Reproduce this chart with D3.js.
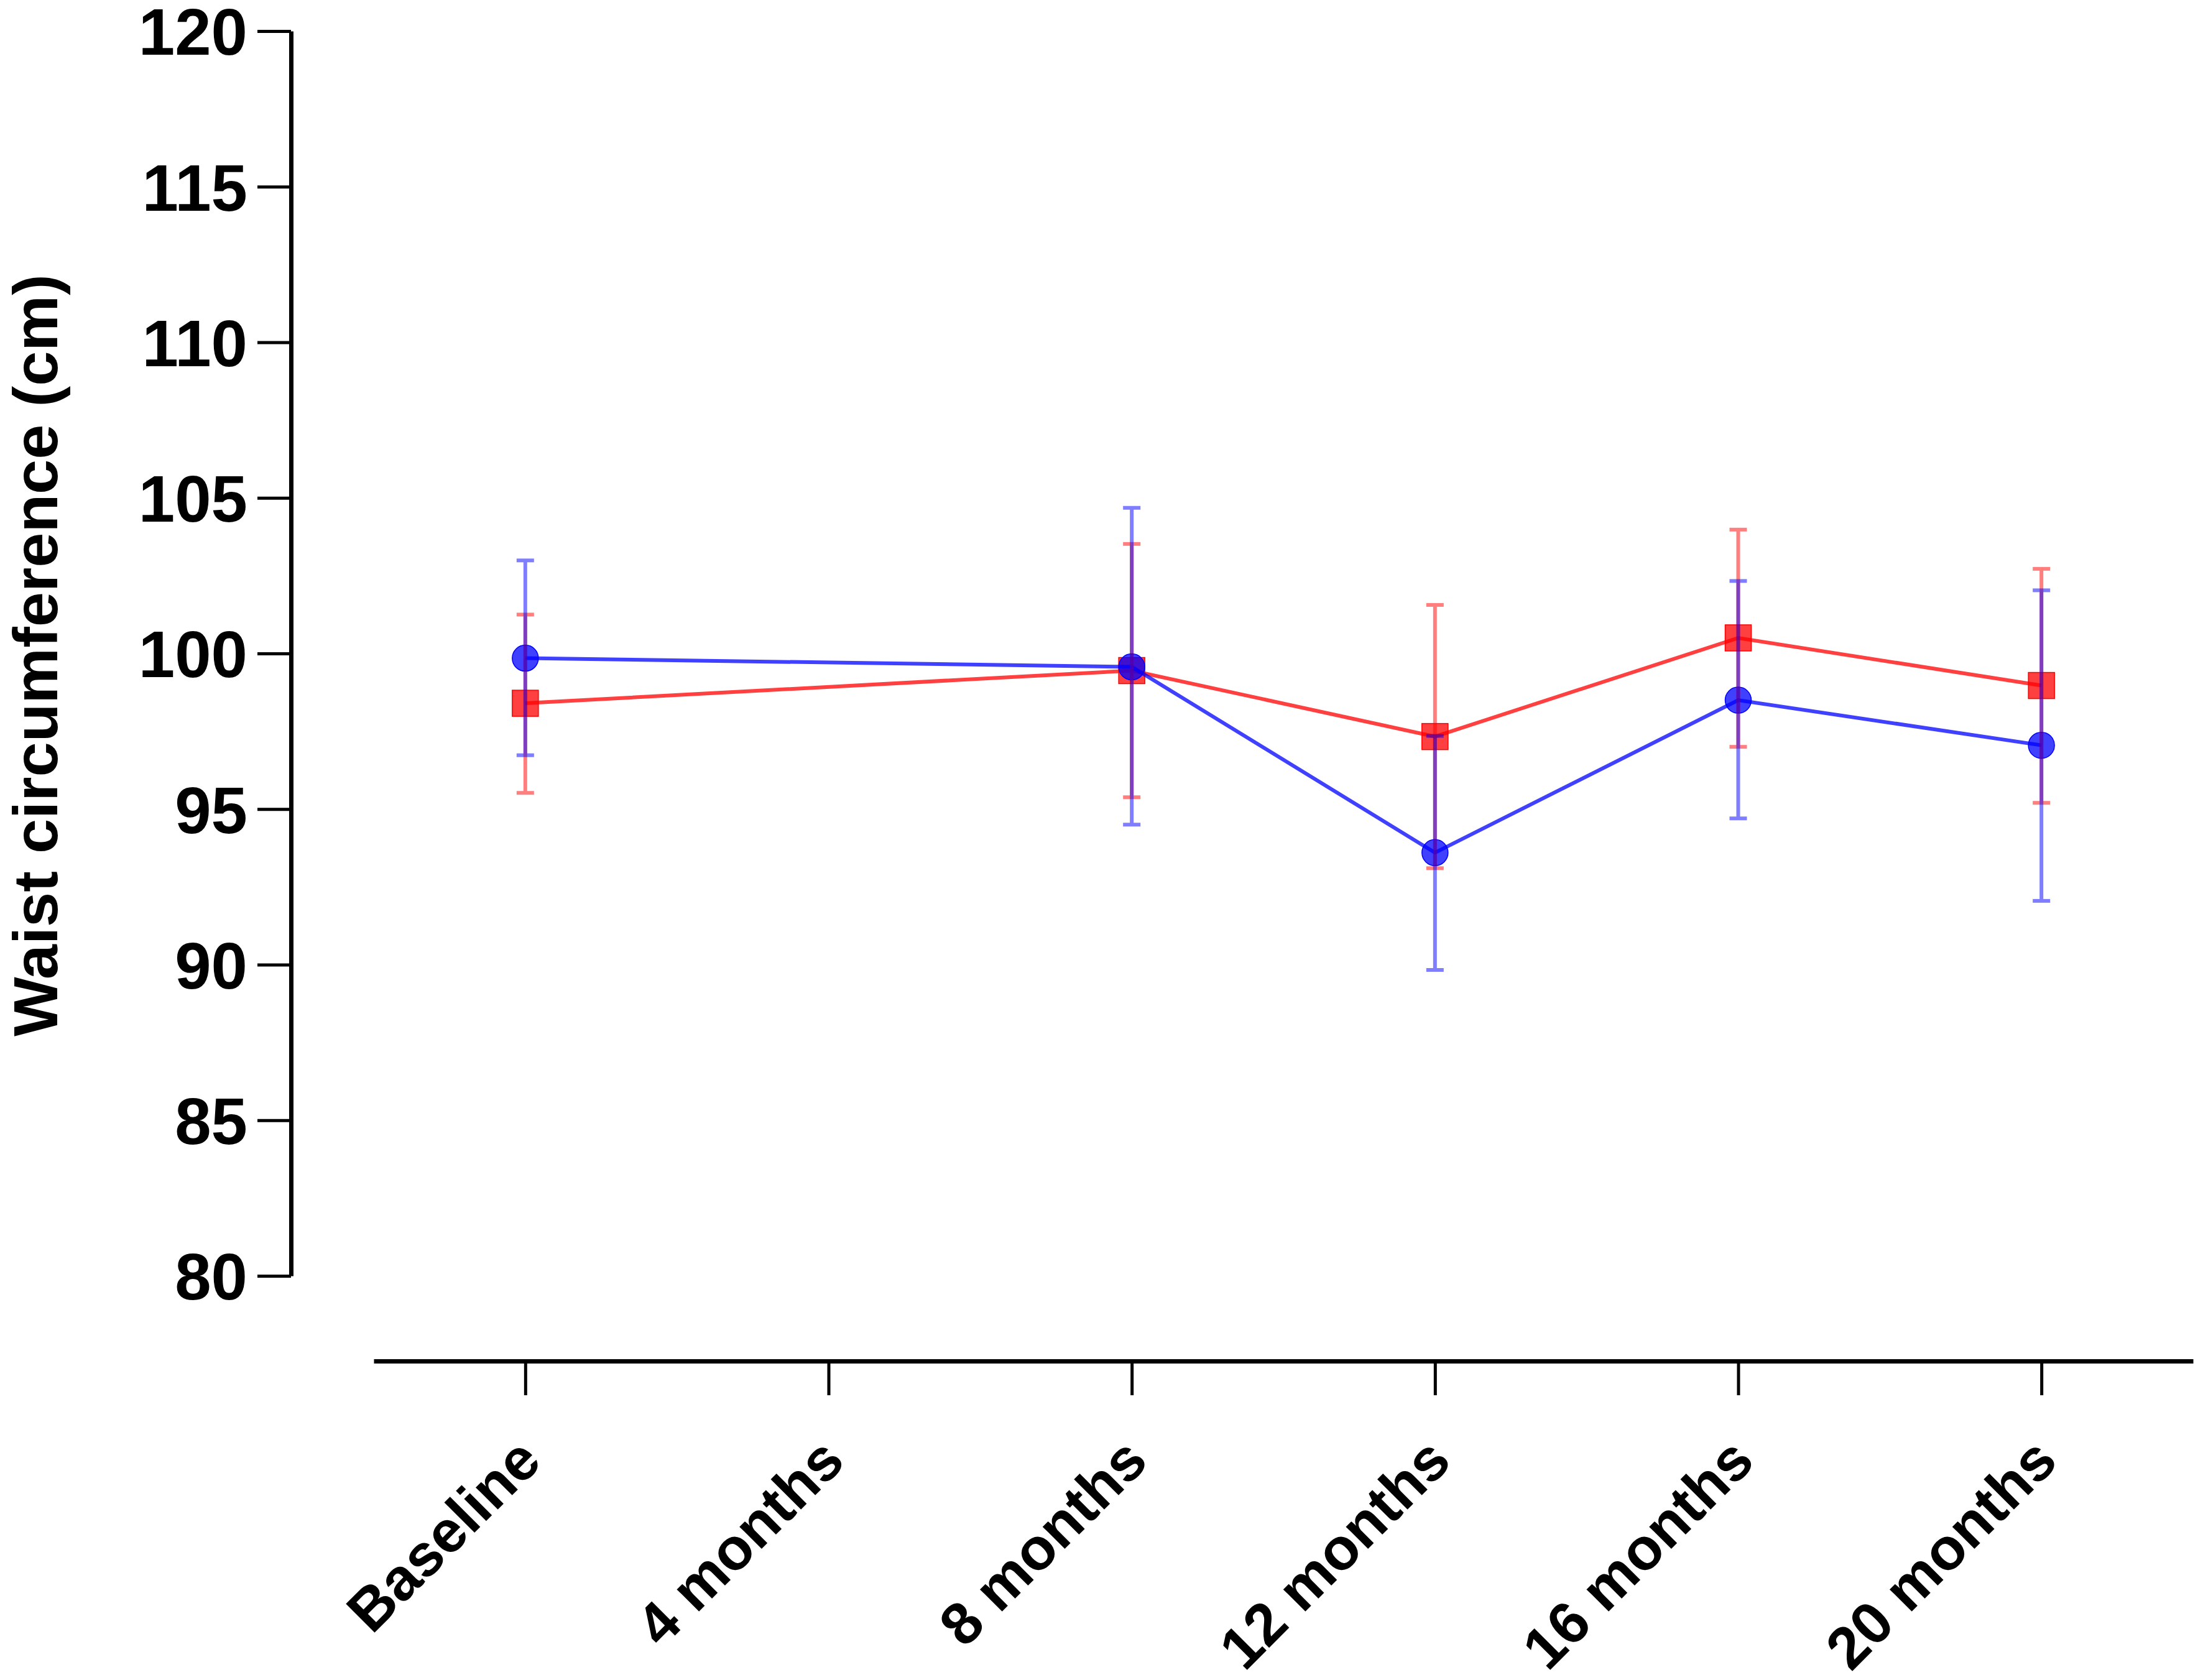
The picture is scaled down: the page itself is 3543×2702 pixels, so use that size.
<!DOCTYPE html>
<html>
<head>
<meta charset="utf-8">
<script src="https://cdn.jsdelivr.net/npm/d3@7"></script>
<style>
    body { margin: 0; background: #fff; }
    text { font-family: "Liberation Sans", Arial, sans-serif; font-weight: bold; }
</style>
</head>
<body>
<div id="chart"></div>
<script>
// categories and values (4 months has no data)
let categories = ["Baseline", "4 months", "8 months", "12 months", "16 months", "20 months"];
let yTicks = [80, 85, 90, 95, 100, 105, 110, 115, 120];

let blueMean = [99.85, null, 99.57, 93.6, 98.5, 97.05];
let blueHigh = [102.99, null, 104.68, 97.35, 102.33, 102.03];
let blueLow = [96.73, null, 94.5, 89.83, 94.7, 92.05];

let redMean = [98.4, null, 99.45, 97.33, 100.5, 98.97];
let redHigh = [101.25, null, 103.52, 101.56, 103.98, 102.72];
let redLow = [95.52, null, 95.38, 93.1, 97.0, 95.2];

let width = 3543, height = 2702;

let svg = d3.select("#chart").append("svg")
    .attr("width", width)
    .attr("height", height);

// scales
let y = d3.scaleLinear()
    .domain([80, 120])
    .range([2052, 50]);

let x = d3.scalePoint()
    .domain(categories)
    .range([601, 3527])
    .padding(0.5);

let yAxisX = 468, xAxisY = 2189;

// y axis
let yAxis = svg.append("g")
    .attr("transform", "translate(" + yAxisX + ",0)")
    .call(d3.axisLeft(y).tickValues(yTicks).tickSize(54).tickSizeOuter(0).tickPadding(16));
yAxis.select(".domain").attr("stroke-width", 7);
yAxis.selectAll(".tick line").attr("stroke-width", 5);
yAxis.selectAll(".tick text")
    .attr("font-size", 105)
    .attr("fill", "#000")
    .attr("dy", "0.36em");

// x axis
let xAxis = svg.append("g")
    .attr("transform", "translate(0," + xAxisY + ")")
    .call(d3.axisBottom(x).tickSize(55).tickSizeOuter(0));
xAxis.select(".domain").attr("stroke-width", 7);
xAxis.selectAll(".tick line").attr("stroke-width", 5);
xAxis.selectAll(".tick text")
    .attr("y", null)
    .attr("dy", null)
    .attr("font-size", 95)
    .attr("fill", "#000")
    .attr("text-anchor", "end")
    .attr("transform", "translate(29,165) rotate(-45)");

// y axis title
svg.append("text")
    .attr("transform", "translate(92," + ((y(80) + y(120)) / 2 + 3) + ") rotate(-90)")
    .attr("text-anchor", "middle")
    .attr("font-size", 101)
    .text("Waist circumference (cm)");

function toPoints(mean, low, high) {
    return categories.map((c, i) => ({cat: c, mean: mean[i], low: low[i], high: high[i]}))
        .filter(d => d.mean !== null);
}

let series = [
    {key: "red", color: "#ff0000", shape: "square", points: toPoints(redMean, redLow, redHigh)},
    {key: "blue", color: "#0000ff", shape: "circle", points: toPoints(blueMean, blueLow, blueHigh)}
];

let line = d3.line()
    .x(d => x(d.cat))
    .y(d => y(d.mean));

let plot = svg.append("g");

series.forEach(function (s) {
    let g = plot.append("g").attr("class", "series-" + s.key);

    if (s.shape === "square") {
        g.selectAll("rect")
            .data(s.points)
            .enter().append("rect")
            .attr("x", d => x(d.cat) - 21)
            .attr("y", d => y(d.mean) - 21)
            .attr("width", 42)
            .attr("height", 42)
            .attr("fill", s.color)
            .attr("fill-opacity", 0.75)
            .attr("stroke", s.color)
            .attr("stroke-width", 1.5);
    } else {
        g.selectAll("circle")
            .data(s.points)
            .enter().append("circle")
            .attr("cx", d => x(d.cat))
            .attr("cy", d => y(d.mean))
            .attr("r", 21)
            .attr("fill", s.color)
            .attr("fill-opacity", 0.75)
            .attr("stroke", s.color)
            .attr("stroke-width", 1.5);
    }

    g.append("path")
        .datum(s.points)
        .attr("fill", "none")
        .attr("stroke", s.color)
        .attr("stroke-opacity", 0.75)
        .attr("stroke-width", 6)
        .attr("d", line);
});

// error bars on top, semi transparent
series.forEach(function (s) {
    let eb = plot.append("g")
        .attr("class", "errorbars-" + s.key)
        .attr("opacity", 0.5);

    let bars = eb.selectAll("g")
        .data(s.points)
        .enter().append("g");

    bars.append("line")
        .attr("x1", d => x(d.cat))
        .attr("x2", d => x(d.cat))
        .attr("y1", d => y(d.low))
        .attr("y2", d => y(d.high))
        .attr("stroke", s.color)
        .attr("stroke-width", 6);

    ["low", "high"].forEach(function (k) {
        bars.append("line")
            .attr("x1", d => x(d.cat) - 14)
            .attr("x2", d => x(d.cat) + 14)
            .attr("y1", d => y(d[k]))
            .attr("y2", d => y(d[k]))
            .attr("stroke", s.color)
            .attr("stroke-width", 6);
    });
});
</script>
</body>
</html>
